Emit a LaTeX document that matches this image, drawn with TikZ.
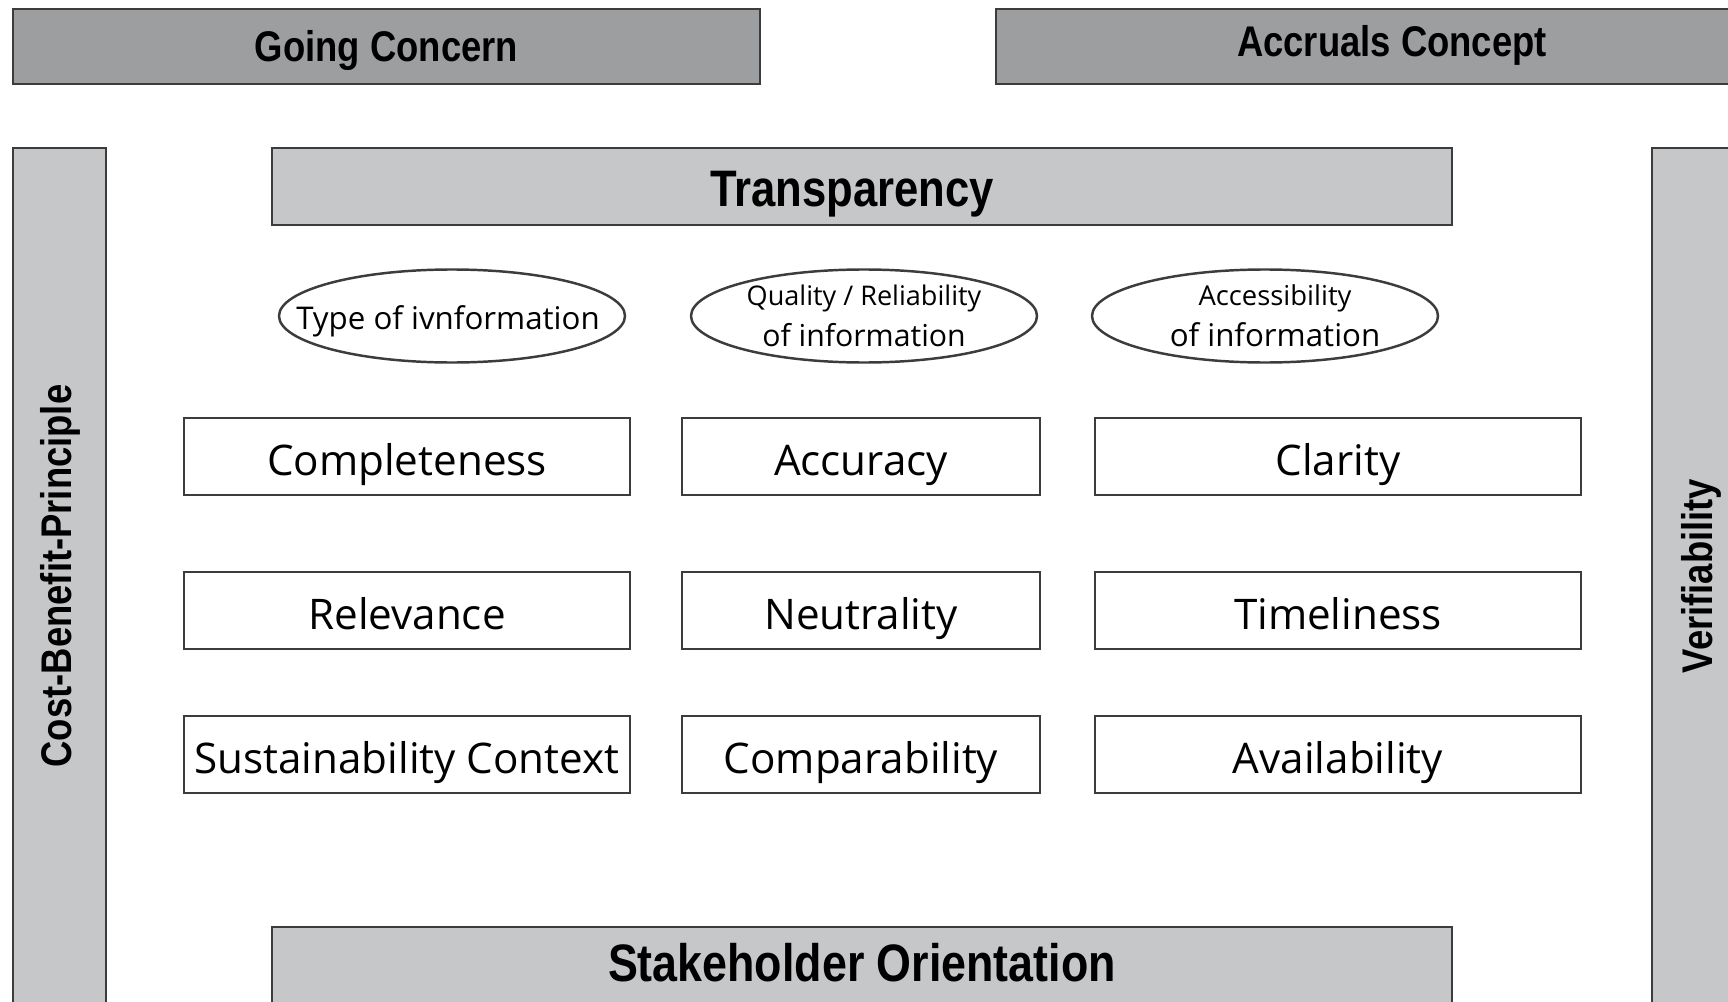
\documentclass[tikz,border=0pt]{standalone}
\usepackage{fontspec}
\setmainfont{Open Sans}
\newfontfamily\headfont[FakeStretch=0.85]{Liberation Sans}
\usetikzlibrary{shapes.geometric}

\definecolor{darkfill}{HTML}{9D9EA0}
\definecolor{lightfill}{HTML}{C6C7C9}
\definecolor{edgegray}{HTML}{3C3C3C}

\begin{document}
\begin{tikzpicture}[x=0.1mm, y=-0.1mm,
    pillar/.style={draw=edgegray, line width=0.6pt, inner sep=0pt,
        text height=8.7pt, text depth=0pt,
        font=\headfont\bfseries\fontsize{12.2}{14}\selectfont},
    beam/.style={pillar, fill=lightfill, text height=11.6pt,
        font=\headfont\bfseries\fontsize{14.6}{17}\selectfont},
    critbox/.style={draw=edgegray, line width=0.6pt, fill=white, inner sep=0pt,
        minimum height=7.7mm, text height=10.8pt, text depth=0pt,
        font=\fontsize{12}{14}\selectfont},
    infoellipse/.style={draw=edgegray, ellipse, line width=0.7pt, inner sep=0pt,
        minimum width=34.6mm, minimum height=9.3mm, align=center,
        font=\fontsize{8.6}{11.6}\selectfont}]

    \path[use as bounding box, fill=white] (0,0) rectangle (1728,1001);
    \clip (0,0) rectangle (1728,1001);

    \def\rowA{456.5} % first row of criteria
    \def\rowB{610.5}
    \def\rowC{754.5}

    % Basic assumptions on top
    \node[pillar, fill=darkfill, minimum width=74.7mm, minimum height=7.5mm] (going) at (386.5,46.5) {Going Concern};
    \node[pillar, fill=darkfill, minimum width=79.2mm, minimum height=7.5mm, text depth=3.2pt] (accruals) at (1392,46.5) {Accruals Concept};

    % Side constraints
    \node[pillar, fill=lightfill, rotate=90, minimum width=85.6mm, minimum height=9.3mm, text depth=2pt] (costbenefit) at (59.5,576) {Cost-Benefit-Principle};
    \node[pillar, fill=lightfill, rotate=90, minimum width=85.6mm, minimum height=9.0mm] (verif) at (1697,576) {Verifiability};

    % Roof and base
    \node[beam, minimum width=118mm, minimum height=7.7mm] (transp) at (862,186.5) {Transparency\kern2mm};
    \node[beam, minimum width=118mm, minimum height=7.8mm, text height=10.7pt, text depth=1.7pt,
        font=\headfont\bfseries\fontsize{15}{17}\selectfont] (stakeholder) at (862,966) {Stakeholder Orientation};

    % Groups of criteria
    \node[infoellipse, inner xsep=-3.5mm, text height=7.5pt, text depth=0pt,
        font=\fontsize{8.9}{11}\selectfont] (typeinfo) at (452,316) {Type of ivnformation\kern0.8mm};
    \node[infoellipse] (qualinfo) at (864,316) {{\fontsize{7.7}{11.6}\selectfont Quality / Reliability}\\of information};
    \node[infoellipse] (accinfo) at (1265,316) {\hspace*{2mm}{\fontsize{7.8}{11.6}\selectfont Accessibility}\\
        \hspace*{2mm}{\fontsize{8.9}{11.6}\selectfont of information}};

    % Criteria, one column at a time
    \foreach \name/\y/\text in {compl/\rowA/Completeness, relev/\rowB/Relevance, sustain/\rowC/Sustainability Context}
        \node[critbox, minimum width=44.6mm] (\name) at (407,\y) {\text};
    \foreach \name/\y/\text in {accur/\rowA/Accuracy, neutral/\rowB/Neutrality, compar/\rowC/Comparability}
        \node[critbox, minimum width=35.8mm] (\name) at (861,\y) {\text};
    \foreach \name/\y/\text in {clarity/\rowA/Clarity, timely/\rowB/Timeliness, avail/\rowC/Availability}
        \node[critbox, minimum width=48.6mm] (\name) at (1338,\y) {\text};
\end{tikzpicture}
\end{document}
